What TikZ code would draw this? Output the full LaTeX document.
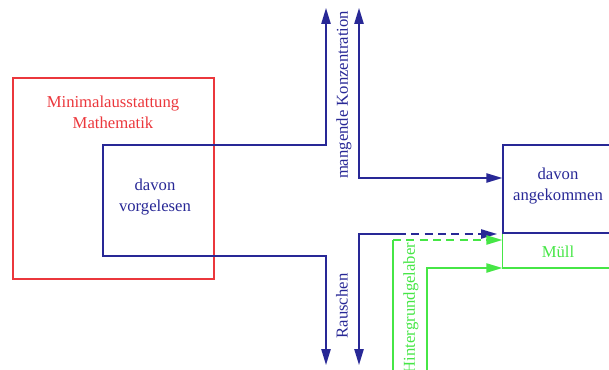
\documentclass[tikz,border=0pt]{standalone}
\usepackage{fontspec}
\setmainfont{Liberation Serif}
\usepackage{tikz}
\usetikzlibrary{arrows.meta, positioning}
\definecolor{blau}{RGB}{40,40,150}
\definecolor{rot}{RGB}{235,55,60}
\definecolor{gruen}{RGB}{70,230,70}
\tikzstyle{menge} = [rectangle, draw=rot, line width=1.1pt, minimum width=150.75pt, minimum height=150.75pt, inner sep=0pt]
\tikzstyle{ziel} = [rectangle, draw=blau, line width=1.1pt, minimum width=82.5pt, minimum height=66pt, inner sep=0pt]
\tikzstyle{beschriftung} = [text centered, align=center, font=\fontsize{12.5}{15.5}\selectfont]
\tikzstyle{linie} = [line width=1.1pt]
\tikzstyle{arrow} = [line width=1.1pt, -{Triangle[length=12pt,width=7pt]}]
\tikzstyle{doppelarrow} = [line width=1.1pt, {Triangle[length=12pt,width=7pt]}-{Triangle[length=12pt,width=7pt]}]

\begin{document}
\begin{tikzpicture}[x=0.75pt, y=-0.75pt]
    \clip (0,0) rectangle (609,370);
    \node (mathe) [menge] at (113.5,178.5) {};
    \node (mathetext) [beschriftung, text=rot] at (113,112.5) {Minimalausstattung\\Mathematik};
    \node (vorgelesen) [beschriftung, text=blau] at (155,197) {davon\\vorgelesen};
    \node (ankunft) [ziel] at (558,189) {};
    \node (ankunfttext) [beschriftung, text=blau] at (558,186) {davon\\angekommen};
    \node (muell) [beschriftung, text=gruen] at (558,252) {Müll};
    \node (konztext) [beschriftung, text=blau, rotate=90] at (344,95) {mangende Konzentration};
    \node (rauschtext) [beschriftung, text=blau, rotate=90] at (342,306) {Rauschen};
    \node (gelabertext) [beschriftung, text=gruen, rotate=90] at (411,308) {Hintergrundgelaber};

    \coordinate (obenA) at (326,8);
    \coordinate (untenA) at (326,365);
    \coordinate (obenB) at (359,8);
    \coordinate (konz) at (359,178);
    \coordinate (rausch) at (398,234);
    \coordinate (untenB) at (359,365);
    \coordinate (gelaber) at (393,240);
    \coordinate (muellecke) at (427,268);

    \draw [doppelarrow, blau] (obenA) |- (103,145) -- (103,256) -| (untenA);
    \draw [doppelarrow, blau] (obenB) |- (konz -| ankunft.west);
    \draw [arrow, blau] (rausch) -| (untenB);
    \draw [arrow, blau, dash pattern=on 6pt off 4pt] (rausch) -- (497,234);
    \draw [linie, gruen] (gelaber) -- (393,375);
    \draw [arrow, gruen, dash pattern=on 6pt off 4pt] (gelaber) -- (gelaber -| ankunft.west);
    \draw [arrow, gruen] (427,375) -- (muellecke) -- (muellecke -| ankunft.west);
    \draw [linie, gruen] (ankunft.south west) -- (ankunft.west |- muellecke) -- (ankunft.east |- muellecke);
\end{tikzpicture}
\end{document}
